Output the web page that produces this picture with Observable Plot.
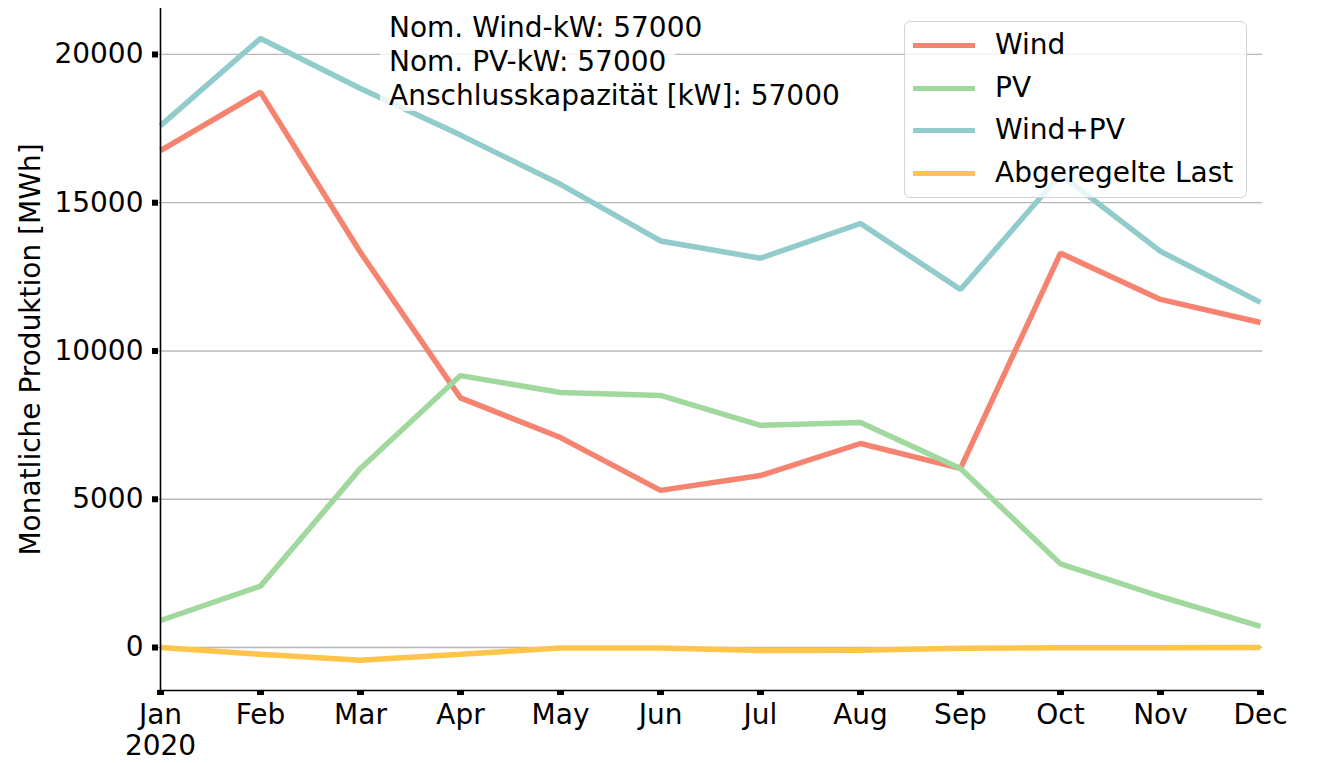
<!DOCTYPE html>
<html>
<head>
<meta charset="utf-8">
<script src="https://cdn.jsdelivr.net/npm/d3@7"></script>
<script src="https://cdn.jsdelivr.net/npm/@observablehq/plot@0.6"></script>
<style>
  html, body { margin: 0; padding: 0; background: #fff; }
  #wrap { position: relative; width: 1320px; height: 763px; font-family: "DejaVu Sans", sans-serif; font-size: 28px; color: #000; }
  #wrap svg { position: absolute; left: 0; top: 0; }
  #note { position: absolute; left: 380px; top: 12.6px; }
  #note div { width: fit-content; height: 30px; line-height: 30px; padding: 0 9px; margin-bottom: 4.3px; background: rgba(255,255,255,0.8); white-space: nowrap; }
  #legend { position: absolute; left: 904px; top: 21px; width: 341px; height: 175px; border: 1px solid #d4d4d4; border-radius: 6px; background: rgba(255,255,255,0.8); }
  #legend .row { position: absolute; left: 0; height: 34px; line-height: 34px; white-space: nowrap; }
  #legend .sw { position: absolute; left: 8px; top: 14.5px; width: 62px; height: 5px; }
  #legend .lb { position: absolute; left: 90px; top: 0; }
</style>
</head>
<body>
<div id="wrap"></div>
<script>
const months = ["Jan","Feb","Mar","Apr","May","Jun","Jul","Aug","Sep","Oct","Nov","Dec"];
const wind       = [16760, 18730, 13320, 8420, 7080, 5300, 5800, 6880, 6040, 13300, 11740, 10960];
const pv         = [910, 2070, 6040, 9170, 8600, 8500, 7490, 7590, 6040, 2820, 1720, 710];
const windPv     = [17600, 20540, 18850, 17280, 15620, 13710, 13130, 14300, 12075, 15950, 13360, 11640];
const curtailed  = [0, -230, -430, -230, -20, -20, -100, -90, -25, -10, -5, 0];
const seriesNames = ["Wind", "PV", "Wind+PV", "Abgeregelte Last"];
const seriesColors = ["#F6836F", "#A0D89D", "#91CBCC", "#FFC54A"];
const yTicks = [0, 5000, 10000, 15000, 20000];
const yDomain = [-1450, 21550];
const noteLines = ["Nom. Wind-kW: 57000", "Nom. PV-kW: 57000", "Anschlusskapazität [kW]: 57000"];
const yLabel = "Monatliche Produktion [MWh]";

const seriesValues = [wind, pv, windPv, curtailed];

const lineMarks = seriesValues.map((vals, s) =>
  Plot.line(vals, {
    x: (d, i) => months[i],
    y: d => d,
    stroke: seriesColors[s],
    strokeWidth: 5.5,
    strokeLinejoin: "miter",
    strokeLinecap: "butt"
  })
);

const chart = Plot.plot({
  width: 1320,
  height: 763,
  marginLeft: 158,
  marginRight: 58,
  marginTop: 8,
  marginBottom: 73,
  style: { fontFamily: "DejaVu Sans", fontSize: "28px", color: "#000", background: "transparent" },
  x: { type: "point", domain: months, padding: 0 },
  y: { domain: yDomain },
  marks: [
    Plot.gridY(yTicks, { stroke: "#b8b8b8", strokeOpacity: 1, strokeWidth: 1.3 }),
    ...lineMarks,
    Plot.ruleY([yDomain[0]], { stroke: "#000", strokeWidth: 1.6 }),
    Plot.ruleX([months[0]], { stroke: "#000", strokeWidth: 1.6 }),
    Plot.axisY(yTicks, {
      tickSize: 6, tickPadding: 9, strokeWidth: 6,
      tickFormat: d => String(d), fontSize: 28,
      label: yLabel, labelAnchor: "center", labelOffset: 138, labelArrow: "none"
    }),
    Plot.axisX(months, {
      tickSize: 5, tickPadding: 6, strokeWidth: 7,
      tickFormat: d => d === "Jan" ? "Jan\n2020" : d, fontSize: 28, lineHeight: 1.12,
      label: null
    })
  ]
});

const wrap = document.getElementById("wrap");
wrap.appendChild(chart);

const note = document.createElement("div");
note.id = "note";
noteLines.forEach(t => { const d = document.createElement("div"); d.textContent = t; note.appendChild(d); });
wrap.appendChild(note);

const legend = document.createElement("div");
legend.id = "legend";
const rowCenters = [23, 66, 108, 151];
seriesNames.forEach((name, i) => {
  const row = document.createElement("div");
  row.className = "row";
  row.style.top = (rowCenters[i] - 17) + "px";
  const sw = document.createElement("div");
  sw.className = "sw";
  sw.style.background = seriesColors[i];
  const lb = document.createElement("div");
  lb.className = "lb";
  lb.textContent = name;
  row.appendChild(sw); row.appendChild(lb);
  legend.appendChild(row);
});
wrap.appendChild(legend);
</script>
</body>
</html>
